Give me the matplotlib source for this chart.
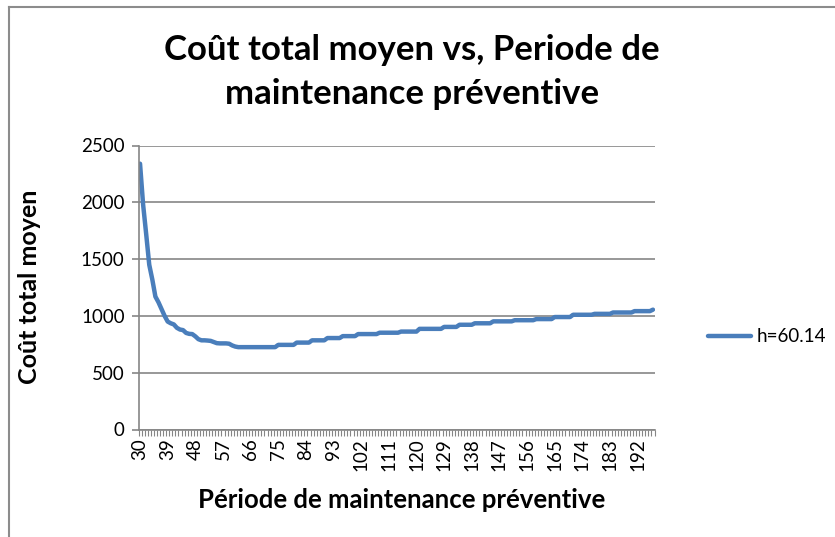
import numpy as np
import matplotlib
matplotlib.use("Agg")
import matplotlib.pyplot as plt
from matplotlib.lines import Line2D

# =========================================================
# DATA
# =========================================================

periods = list(range(30, 198))

cost = [
    2340, 1980, 1720, 1450, 1320, 1170, 1120, 1060, 1000, 950, 935, 925,
    895, 880, 875, 850, 842, 840, 820, 795, 785, 785, 783, 780,
    770, 760, 758, 758, 758, 755, 740, 730, 725, 725, 725, 725,
    725, 725, 725, 725, 725, 725, 725, 725, 725, 745, 745, 745,
    745, 745, 745, 765, 765, 765, 765, 765, 785, 785, 785, 785,
    785, 805, 805, 805, 805, 805, 822, 822, 822, 822, 822, 840,
    840, 840, 840, 840, 840, 840, 852, 852, 852, 852, 852, 852,
    852, 862, 862, 862, 862, 862, 862, 886, 886, 886, 886, 886,
    886, 886, 886, 903, 903, 903, 903, 903, 922, 922, 922, 922,
    922, 935, 935, 935, 935, 935, 935, 952, 952, 952, 952, 952,
    952, 952, 962, 962, 962, 962, 962, 962, 962, 972, 972, 972,
    972, 972, 972, 990, 990, 990, 990, 990, 990, 1010, 1010, 1010,
    1010, 1010, 1010, 1010, 1018, 1018, 1018, 1018, 1018, 1018, 1030, 1030,
    1030, 1030, 1030, 1030, 1030, 1042, 1042, 1042, 1042, 1042, 1042, 1055,
]

y_ticks = [0, 500, 1000, 1500, 2000, 2500]
label_step = 9

title = "Coût total moyen vs, Periode de\nmaintenance préventive"
x_title = "Période de maintenance préventive"
y_title = "Coût total moyen"
series_name = "h=60.14"

# =========================================================
# FIGURE
# =========================================================

plt.rcParams['font.family'] = ['Lato', 'DejaVu Sans']

W, H = 835, 537
fig = plt.figure(figsize=(W / 100, H / 100), dpi=100)

# plot area in pixels (left, top, right, bottom)
px_l, px_t, px_r, px_b = 138.5, 145.5, 654.5, 429.5
ax = fig.add_axes([px_l / W, 1 - px_b / H, (px_r - px_l) / W, (px_b - px_t) / H])

grey = "#868686"
blue = "#4a7ebb"

x = np.arange(len(periods))
ax.plot(x, cost, color=blue, linewidth=3.2, solid_capstyle="round",
        solid_joinstyle="round", label=series_name)

ax.set_xlim(-0.5, len(periods) - 0.5)
ax.set_ylim(0, 2500)

# y axis
ax.set_yticks(y_ticks)
ax.set_yticklabels([str(v) for v in y_ticks], fontsize=13.5)
ax.yaxis.grid(True, color=grey, linewidth=1.2)
ax.set_axisbelow(True)
ax.tick_params(axis="y", length=5, width=1.2, color=grey, pad=5)

# x axis: small tick at every category boundary, labels every 9
ax.set_xticks(np.arange(len(periods) + 1) - 0.5, minor=True)
ax.set_xticks(x[::label_step])
ax.set_xticklabels([str(p) for p in periods[::label_step]],
                   rotation=90, fontsize=13.5)
ax.tick_params(axis="x", which="major", length=0, pad=6)
ax.tick_params(axis="x", which="minor", length=4, width=0.8, color=grey)

for side in ["top", "right"]:
    ax.spines[side].set_visible(False)
for side in ["left", "bottom"]:
    ax.spines[side].set_color(grey)
    ax.spines[side].set_linewidth(1.2)

# axis titles
fig.text(402 / W, 1 - 500 / H, x_title, ha="center", va="center",
         fontsize=18.5, fontweight="bold")
fig.text(30 / W, 1 - 287 / H, y_title, ha="center", va="center",
         rotation=90, fontsize=18, fontweight="bold")

fig.text(412 / W, 1 - 72 / H, title, ha="center", va="center",
         fontsize=25, fontweight="bold", linespacing=1.45)

fig.legend(loc="center left", bbox_to_anchor=(700 / W, 1 - 337 / H),
           frameon=False, fontsize=13.5, handlelength=2.3, handletextpad=0.3,
           borderaxespad=0)

# chart area border (only top/left visible in the crop)
fig.add_artist(Line2D([9 / W, 9 / W], [1 - 7 / H, 0], color="#8c8c8c",
                      linewidth=1.5, transform=fig.transFigure))
fig.add_artist(Line2D([9 / W, 1], [1 - 7 / H, 1 - 7 / H], color="#8c8c8c",
                      linewidth=1.5, transform=fig.transFigure))

fig.savefig("out.png", dpi=100)
